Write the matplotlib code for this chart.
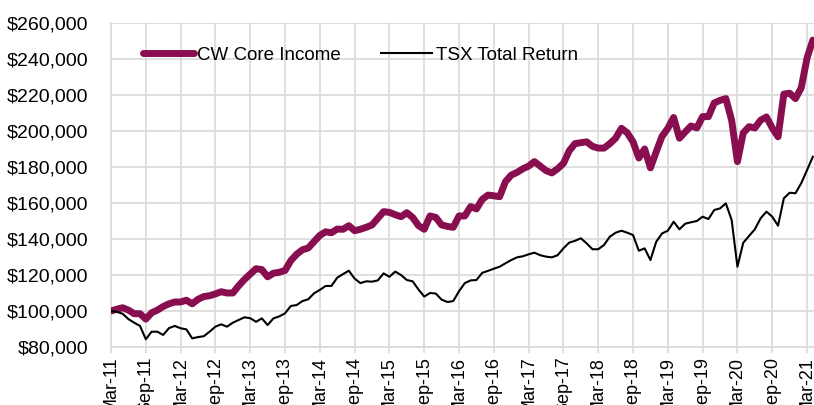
import matplotlib
matplotlib.use("Agg")
import matplotlib.pyplot as plt
from matplotlib.ticker import FuncFormatter, FixedLocator

plt.rcParams['font.family'] = ['Liberation Sans', 'DejaVu Sans']

# Monthly values, Mar-2011 .. Apr-2021 (in $ thousands)
cw_core_income = [
    100.0, 101.0, 101.8, 100.5, 98.5, 98.5, 95.5, 99.0, 100.5, 102.5,
    104.0, 105.0, 105.0, 106.0, 104.0, 106.5, 108.0, 108.5, 109.5, 110.7, 110.0, 110.0,
    114.0, 117.5, 120.5, 123.5, 123.0, 119.0, 121.0, 121.5, 122.5, 128.0, 131.5, 134.0,
    135.0, 138.5, 142.0, 144.0, 143.5, 145.5, 145.4, 147.4, 144.6, 145.4, 146.5, 147.8,
    151.5, 155.2, 154.8, 153.5, 152.4, 154.6, 152.0, 147.5, 145.4, 152.8, 152.0, 147.8,
    147.0, 146.5, 152.8, 152.8, 158.0, 156.7, 162.0, 164.4, 164.0, 163.5, 171.8, 175.5,
    177.0, 179.0, 180.5, 183.0, 180.5, 178.0, 176.7, 179.0, 182.0, 189.0, 193.0, 193.5,
    194.0, 191.5, 190.5, 190.5, 193.0, 196.0, 201.5, 199.0, 194.0, 185.0, 190.0, 179.5,
    188.5, 197.0, 201.5, 207.5, 196.0, 199.5, 202.8, 201.7, 208.0, 208.0, 215.6, 217.0,
    218.0, 206.0, 183.0, 198.9, 202.4, 201.7, 206.0, 207.8, 201.7, 196.8, 220.5, 221.0,
    218.0, 224.0, 240.5, 250.5,
]
tsx_total_return = [
    100.0, 99.5, 98.5, 95.5, 93.5, 91.7, 84.3, 88.5, 88.5, 86.7,
    90.5, 91.7, 90.4, 89.8, 84.8, 85.5, 86.0, 88.5, 91.3, 92.6, 91.3, 93.5,
    95.0, 96.5, 96.0, 94.0, 95.9, 92.2, 95.9, 97.0, 98.7, 102.8, 103.3, 105.5,
    106.5, 109.8, 111.7, 113.9, 113.9, 118.5, 120.5, 122.4, 118.0, 115.5, 116.5, 116.3,
    117.0, 120.9, 119.0, 121.9, 120.0, 117.2, 116.5, 112.0, 108.0, 110.0, 109.7, 106.3,
    105.0, 105.5, 111.0, 115.5, 117.0, 117.2, 121.2, 122.3, 123.5, 124.6, 126.5, 128.3,
    129.8, 130.4, 131.5, 132.4, 131.0, 130.2, 129.8, 131.0, 134.8, 138.0, 139.0, 140.4,
    137.6, 134.3, 134.3, 136.7, 141.3, 143.5, 144.6, 143.5, 142.2, 133.5, 134.8, 128.3,
    138.5, 143.1, 144.6, 149.6, 145.4, 148.5, 149.3, 150.0, 152.4, 151.1, 156.1, 157.0,
    159.8, 150.6, 124.6, 137.9, 141.7, 145.4, 151.5, 155.2, 152.4, 147.4, 162.6, 165.7,
    165.4, 171.0, 178.3, 185.7,
]
tick_labels = ["Mar-11", "Sep-11", "Mar-12", "Sep-12", "Mar-13", "Sep-13", "Mar-14",
               "Sep-14", "Mar-15", "Sep-15", "Mar-16", "Sep-16", "Mar-17", "Sep-17",
               "Mar-18", "Sep-18", "Mar-19", "Sep-19", "Mar-20", "Sep-20", "Mar-21"]
series_names = ["CW Core Income", "TSX Total Return"]

months = list(range(len(cw_core_income)))
cw = [v * 1000 for v in cw_core_income]
tsx = [v * 1000 for v in tsx_total_return]

W, H = 814, 405
fig = plt.figure(figsize=(W / 100, H / 100), dpi=100)
ax = fig.add_axes([111 / W, 1 - 347 / H, (W - 111) / W, (347 - 23) / H])

grid_c = '#D9D9D9'
ax.plot(months, cw, color='#880E4F', lw=5.0, solid_capstyle='round',
        solid_joinstyle='round', label=series_names[0], zorder=3)
ax.plot(months, tsx, color='black', lw=1.5, label=series_names[1], zorder=4)

ax.set_xlim(0, 121.2)
ax.set_ylim(80000, 260000)
ax.xaxis.set_major_locator(FixedLocator(list(range(0, 121, 6))))
ax.set_xticklabels(tick_labels, rotation=90)
ax.set_yticks(range(80000, 260001, 20000))
ax.yaxis.set_major_formatter(FuncFormatter(lambda v, p: f"${v:,.0f}"))

ax.grid(True, color=grid_c, lw=1.2, zorder=0)
ax.set_axisbelow(True)
for s in ['top', 'right']:
    ax.spines[s].set_visible(False)
for s in ['left', 'bottom']:
    ax.spines[s].set_color(grid_c)
    ax.spines[s].set_linewidth(1.2)

ax.tick_params(axis='x', length=4, width=1.2, color=grid_c, pad=3, labelsize=13)
ax.tick_params(axis='y', length=0, pad=16.5, labelsize=14)

leg = ax.legend(loc='center left', bbox_to_anchor=((143 - 111) / 703, (347 - 55) / 324),
                ncol=2, frameon=False, fontsize=13.5, handlelength=2.7,
                handletextpad=0.2, columnspacing=2.15, borderpad=0, borderaxespad=0)

fig.savefig("out.png", dpi=100)
